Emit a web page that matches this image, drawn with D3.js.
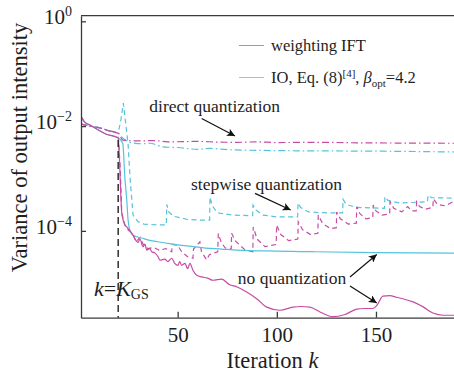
<!DOCTYPE html>
<html lang="en">
<head>
<meta charset="utf-8">
<title>variance vs iteration</title>
<script src="https://cdn.jsdelivr.net/npm/d3@7"></script>
<style>
  body { margin: 0; background: #fff; }
  text { font-family: "Liberation Serif", "DejaVu Serif", serif; fill: #1e1e1e; }
  .axis path, .axis line { stroke: #3a3a3a; stroke-width: 1.3; }
</style>
</head>
<body>
<script>
// values: [iteration k, variance]
var iftNone = [[1,1.62e-2],[3,1.2e-2],[6,1.04e-2],[10,8.4e-3],[14,7.0e-3],[19,6.2e-3],[20,5.9e-3],[20.6,2.5e-3],[21,1.0e-3],[21.8,2.2e-4],[23.4,1.3e-4],[24.3,1.19e-4],[26,1.0e-4],[27.5,8.3e-5],[29,6.5e-5],[30,6.0e-5],[31,7.0e-5],[32.5,4.95e-5],[33.5,5.6e-5],[34.4,4.3e-5],[36,4.6e-5],[36.9,4.0e-5],[38.5,3.8e-5],[40.1,3.2e-5],[41.1,2.75e-5],[43.6,2.9e-5],[45,2.6e-5],[47,3.0e-5],[48.5,2.4e-5],[50.2,2.2e-5],[51,2.6e-5],[52,2.2e-5],[53.7,2.4e-5],[55,1.9e-5],[56.2,2.4e-5],[57.7,1.77e-5],[59.6,1.42e-5],[62.1,1.32e-5],[65,1.25e-5],[67.8,1.14e-5],[72.2,1.2e-5],[76,9.5e-6],[80,8.5e-6],[84.8,6.8e-6],[90,5.0e-6],[94.9,3.5e-6],[101.6,3.05e-6],[108.1,3.5e-6],[112,3.6e-6],[116.7,3.5e-6],[122,2.8e-6],[128.3,2.3e-6],[134,2.5e-6],[140.3,3.2e-6],[144,3.3e-6],[148.5,3.3e-6],[150.5,3.8e-6],[153.5,5.7e-6],[157,5.8e-6],[160.4,5.4e-6],[164,5.0e-6],[168.7,4.4e-6],[174,3.5e-6],[178.7,2.7e-6],[184,2.45e-6],[190,2.45e-6]];

var ioNone = [[1,1.62e-2],[3,1.2e-2],[6,1.04e-2],[10,8.4e-3],[14,7.0e-3],[19,6.2e-3],[20,6.0e-3],[22.3,4.7e-3],[23.4,1.0e-3],[24.3,4.0e-4],[25,1.6e-4],[26,1.0e-4],[27,8.5e-5],[29,7.8e-5],[31.8,7.3e-5],[36,6.6e-5],[40,6.2e-5],[46,5.7e-5],[52,5.3e-5],[58,5.0e-5],[64,4.7e-5],[72,4.5e-5],[80,4.3e-5],[100,4.1e-5],[118,4.0e-5],[150,3.85e-5],[190,3.75e-5]];

var iftDirect = [[1,1.1e-2],[6,1.0e-2],[11,9.2e-3],[15,8.2e-3],[20,7.3e-3],[22.4,5.4e-3],[30,5.2e-3],[38,5.3e-3],[45,5.0e-3],[60,5.1e-3],[70,4.95e-3],[80,4.9e-3],[90,5.0e-3],[100,4.85e-3],[120,4.9e-3],[140,4.8e-3],[160,4.75e-3],[190,4.7e-3]];

var ioDirect = [[1,1.1e-2],[6,1.0e-2],[11,9.2e-3],[15,8.2e-3],[20,7.3e-3],[22.4,5.9e-3],[26,4.9e-3],[32,4.6e-3],[36,4.7e-3],[42.6,4.0e-3],[50,3.9e-3],[60,3.6e-3],[66,3.75e-3],[75,3.55e-3],[101.6,3.4e-3],[130,3.35e-3],[160,3.3e-3],[190,3.2e-3]];

var iftStep = [[1,1.1e-2],[6,1.0e-2],[11,9.2e-3],[15,8.2e-3],[20,7.3e-3],[21,1.65e-3],[21.8,2.2e-4],[23.4,1.3e-4],[25,1.05e-4],[27.5,8.5e-5],[29,6.2e-5],[31,7.5e-5],[33,5.2e-5],[35,4.6e-5],[38,4.8e-5],[41,4.2e-5],[44,4.6e-5],[47,4.0e-5],[47.3,5.5e-5],[50,5.3e-5],[52,4.0e-5],[55,3.2e-5],[57.7,3.0e-5],[58,4.5e-5],[61.2,6.2e-5],[62,4.0e-5],[64.6,2.8e-5],[66,3.5e-5],[70.2,4.0e-5],[70.5,8.9e-5],[72,6.0e-5],[74,4.7e-5],[77,4.5e-5],[77.2,9.0e-5],[79,6.5e-5],[84,4.3e-5],[87.9,4.0e-5],[88.1,1.19e-4],[90,7.0e-5],[94,5.0e-5],[99.7,5.5e-5],[99.9,1.29e-4],[102,8.5e-5],[106,6.5e-5],[110.6,7.0e-5],[110.8,1.49e-4],[113,1.05e-4],[117,8.5e-5],[120.7,9.0e-5],[120.9,2.0e-4],[123,1.4e-4],[127,1.1e-4],[130,1.15e-4],[130.2,2.3e-4],[132,1.7e-4],[136,1.35e-4],[140.1,1.4e-4],[140.3,2.9e-4],[142,2.1e-4],[145,1.7e-4],[148.4,1.8e-4],[148.6,3.1e-4],[150,2.4e-4],[153,2.0e-4],[156.9,2.1e-4],[157.1,3.6e-4],[159,2.7e-4],[163,2.3e-4],[166,2.9e-4],[168,2.4e-4],[170.3,2.4e-4],[170.5,3.6e-4],[172,2.9e-4],[175,2.6e-4],[178.7,2.8e-4],[178.9,4.1e-4],[181,3.2e-4],[185,3.0e-4],[190,3.8e-4]];

var ioStep = [[1,1.1e-2],[6,1.0e-2],[11,9.2e-3],[15,8.2e-3],[20,7.3e-3],[21.5,1.4e-2],[22.6,2.75e-2],[23.6,1.3e-2],[25,4.5e-3],[26,1.0e-3],[27.5,2.0e-4],[30,1.5e-4],[33,1.35e-4],[40,1.3e-4],[44.3,1.3e-4],[44.5,3.2e-4],[45.5,2.3e-4],[48,1.9e-4],[55,1.65e-4],[62,1.6e-4],[66.1,1.6e-4],[66.3,4.4e-4],[67.5,3.0e-4],[70,2.2e-4],[78,2.0e-4],[87.8,1.95e-4],[88,3.1e-4],[89.5,2.5e-4],[93,2.0e-4],[100,1.85e-4],[110.5,1.85e-4],[110.7,3.4e-4],[112,2.8e-4],[116,2.3e-4],[125,2.2e-4],[133.2,2.2e-4],[133.4,4.0e-4],[135,3.2e-4],[140,2.8e-4],[154.3,2.7e-4],[154.5,4.5e-4],[156,3.8e-4],[162,3.4e-4],[176,3.6e-4],[176.2,4.8e-4],[178,4.3e-4],[190,4.2e-4]];

var xTicks = [50, 100, 150];
var yTicks = [1, 1e-2, 1e-4];
var yTickExp = ["0", "\u22122", "\u22124"];
var kGS = 20;
var kGSTop = 5.4e-3;

var w = 454, h = 374;
var plotL = 81, plotT = 15.7, plotB = 317.7;
var pink = "#c64ca4", cyan = "#55c3db";

var xScale = d3.scaleLinear().domain([1.25, 200]).range([plotL, plotL + 198.75 * 1.983]);
var yScale = d3.scaleLog().domain([2.2e-6, 1.28]).range([plotB, plotT]);

var svg = d3.select("body").append("svg").attr("width", w).attr("height", h);

var defs = svg.append("defs");
defs.append("clipPath").attr("id", "plotclip")
  .append("rect").attr("x", plotL).attr("y", plotT)
  .attr("width", w - plotL).attr("height", plotB - plotT);

defs.append("marker").attr("id", "arrow")
  .attr("viewBox", "0 0 10 10").attr("refX", 10).attr("refY", 5)
  .attr("markerWidth", 11).attr("markerHeight", 8)
  .attr("markerUnits", "userSpaceOnUse").attr("orient", "auto")
  .append("path").attr("d", "M0,0 L10,5 L0,10 L2.5,5 z").attr("fill", "#111");

// lines
var smooth = d3.line().x(function(d){ return xScale(d[0]); }).y(function(d){ return yScale(d[1]); }).curve(d3.curveMonotoneX);
var sharp = d3.line().x(function(d){ return xScale(d[0]); }).y(function(d){ return yScale(d[1]); });

var series = [
  { data: ioDirect, color: cyan, dash: "7,3,1.5,3", gen: smooth },
  { data: iftDirect, color: pink, dash: "7,3,1.5,3", gen: smooth },
  { data: ioStep, color: cyan, dash: "5,3.5", gen: sharp },
  { data: iftStep, color: pink, dash: "5,3.5", gen: sharp },
  { data: ioNone, color: cyan, dash: null, gen: smooth },
  { data: iftNone, color: pink, dash: null, gen: smooth }
];

var g = svg.append("g").attr("clip-path", "url(#plotclip)");
series.forEach(function(s) {
  g.append("path")
    .attr("d", s.gen(s.data))
    .attr("fill", "none")
    .attr("stroke", s.color)
    .attr("stroke-width", 1.2)
    .attr("stroke-dasharray", s.dash);
});

// k = K_GS marker line
svg.append("line")
  .attr("x1", xScale(kGS)).attr("x2", xScale(kGS))
  .attr("y1", yScale(kGSTop)).attr("y2", plotB)
  .attr("stroke", "#222").attr("stroke-width", 1.4)
  .attr("stroke-dasharray", "7,4");

// axes
var xAxis = d3.axisBottom(xScale).tickValues(xTicks).tickSizeInner(-6).tickSizeOuter(0).tickPadding(9);
svg.append("g").attr("class", "axis").attr("transform", "translate(0," + plotB + ")").call(xAxis)
  .selectAll("text").style("font-size", "21px").style("font-family", "Liberation Serif").attr("fill", "#1e1e1e");

var yAxis = d3.axisLeft(yScale).tickValues(yTicks).tickSizeInner(-5).tickSizeOuter(0).tickFormat("");
svg.append("g").attr("class", "axis").attr("transform", "translate(" + plotL + ",0)").call(yAxis);

svg.append("line").attr("x1", plotL).attr("x2", w).attr("y1", plotT).attr("y2", plotT)
  .attr("stroke", "#3a3a3a").attr("stroke-width", 1.3);

yTicks.forEach(function(v, i) {
  var t = svg.append("text").attr("x", 72).attr("y", yScale(v) + 3)
    .attr("text-anchor", "end").style("font-size", "21px");
  t.append("tspan").text("10");
  t.append("tspan").attr("dy", -8).style("font-size", "14px").text(yTickExp[i]);
});

// axis titles
svg.append("text").attr("x", 272.5).attr("y", 368).attr("text-anchor", "middle")
  .style("font-size", "22.5px")
  .call(function(t) {
    t.append("tspan").text("Iteration ");
    t.append("tspan").style("font-style", "italic").text("k");
  });

svg.append("text").attr("transform", "translate(27,147.5) rotate(-90)")
  .attr("text-anchor", "middle").style("font-size", "22.5px")
  .text("Variance of output intensity");

// legend
var legend = svg.append("g");
legend.append("line").attr("x1", 239).attr("x2", 264).attr("y1", 45.5).attr("y2", 45.5)
  .attr("stroke", pink).attr("stroke-width", 1).attr("stroke-opacity", 0.75);
legend.append("line").attr("x1", 239).attr("x2", 264).attr("y1", 77.5).attr("y2", 77.5)
  .attr("stroke", cyan).attr("stroke-width", 1).attr("stroke-opacity", 0.75);
legend.append("text").attr("x", 271).attr("y", 50.5).style("font-size", "16.5px").text("weighting IFT");
var lt = legend.append("text").attr("x", 271).attr("y", 82.5).style("font-size", "16.5px");
lt.append("tspan").text("IO, Eq. (8)");
lt.append("tspan").attr("dy", -6).style("font-size", "11px").text("[4]");
lt.append("tspan").attr("dy", 6).text(", ");
lt.append("tspan").style("font-style", "italic").text("\u03b2");
lt.append("tspan").attr("dy", 4).style("font-size", "11px").text("opt");
lt.append("tspan").attr("dy", -4).text("=4.2");

// annotations (placed in data units)
var labels = [
  { k: 35.7, v: 1.85e-2, text: "direct quantization" },
  { k: 56.7, v: 6.0e-4, text: "stepwise quantization" },
  { k: 80.3, v: 9.5e-6, text: "no quantization" }
];
labels.forEach(function(d) {
  svg.append("text").attr("x", xScale(d.k)).attr("y", yScale(d.v))
    .style("font-size", "17.5px").text(d.text);
});

var arrows = [
  [[62.1, 1.4e-2], [78.9, 6.45e-3]],
  [[89, 5.2e-4], [107, 2.5e-4]],
  [[136.9, 1.32e-5], [150.4, 3.54e-5]],
  [[136.9, 8.9e-6], [150.4, 4.2e-6]]
];
arrows.forEach(function(a) {
  svg.append("line")
    .attr("x1", xScale(a[0][0])).attr("y1", yScale(a[0][1]))
    .attr("x2", xScale(a[1][0])).attr("y2", yScale(a[1][1]))
    .attr("stroke", "#111").attr("stroke-width", 1.2)
    .attr("marker-end", "url(#arrow)");
});

var kl = svg.append("text").attr("x", xScale(7.8)).attr("y", yScale(5.7e-6)).style("font-size", "22px");
kl.append("tspan").style("font-style", "italic").text("k");
kl.append("tspan").text("=");
kl.append("tspan").style("font-style", "italic").text("K");
kl.append("tspan").attr("dy", 3).style("font-size", "14px").text("GS");
</script>
</body>
</html>
